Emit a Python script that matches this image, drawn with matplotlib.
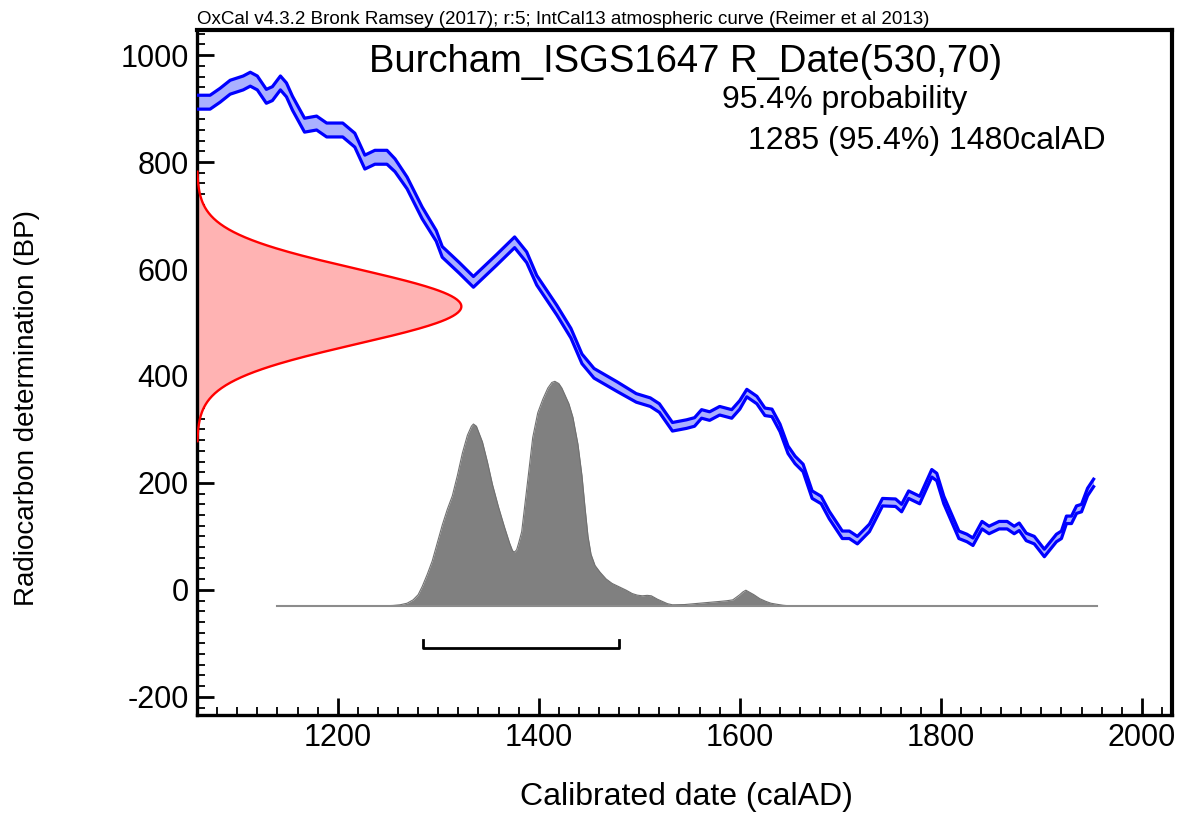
import numpy as np
import matplotlib
matplotlib.use("Agg")
import matplotlib.pyplot as plt

# IntCal13 curve (calAD, BP)
cal_year = [1060, 1073, 1083, 1093, 1106, 1113, 1120, 1129, 1135, 1143, 1149, 1155,
            1167, 1179, 1189, 1197, 1205, 1217, 1227, 1237, 1249, 1257, 1269, 1284,
            1298, 1304, 1321, 1335, 1358, 1376, 1388, 1398, 1418, 1432, 1443, 1455,
            1478, 1497, 1511, 1520, 1533, 1547, 1555, 1562, 1570, 1580, 1592, 1600,
            1607, 1617, 1625, 1632, 1640, 1648, 1655, 1663, 1672, 1681, 1689, 1702,
            1709, 1717, 1729, 1742, 1755, 1761, 1768, 1779, 1791, 1796, 1803, 1818,
            1826, 1832, 1841, 1848, 1858, 1866, 1873, 1878, 1885, 1893, 1903, 1915,
            1920, 1925, 1930, 1935, 1940, 1946, 1952]
cal_bp = [912, 912, 925, 940, 948, 955, 948, 923, 928, 948, 935, 910,
          869, 873, 860, 860, 860, 841, 800, 809, 809, 794, 761, 705,
          662, 632, 602, 576, 617, 650, 622, 579, 523, 480, 432, 405,
          380, 359, 351, 340, 305, 310, 314, 329, 325, 335, 329, 346,
          368, 355, 333, 331, 303, 262, 243, 228, 178, 168, 140, 103,
          103, 93, 116, 164, 163, 153, 178, 168, 218, 211, 168, 103,
          97, 90, 121, 112, 121, 121, 112, 118, 99, 93, 69, 97,
          103, 131, 131, 150, 153, 183, 200]
cal_err = [13, 13, 13, 13, 13, 13, 13, 13, 13, 13, 13, 13,
           13, 13, 13, 13, 13, 13, 13, 13, 13, 12, 11, 11,
           10, 10, 10, 10, 10, 10, 10, 9, 9, 9, 9, 9,
           9, 8, 8, 8, 8, 8, 8, 8, 8, 8, 8, 8,
           7, 7, 7, 7, 7, 7, 7, 7, 7, 7, 7, 7,
           7, 7, 7, 7, 7, 7, 7, 7, 7, 7, 7, 7,
           7, 7, 7, 7, 7, 7, 7, 7, 7, 7, 7, 7,
           7, 7, 7, 7, 7, 7, 7]

# radiocarbon date R_Date(530,70)
c14_mean = 530
c14_sd = 70

# calibrated probability (relative)
post_year = [1140, 1242, 1255, 1262, 1269, 1275, 1280, 1284, 1289, 1294, 1299, 1304,
             1309, 1314, 1319, 1324, 1329, 1333, 1335, 1338, 1344, 1349, 1354, 1360,
             1366, 1371, 1374, 1376, 1378, 1380, 1383, 1388, 1394, 1399, 1404, 1409,
             1413, 1416, 1420, 1423, 1426, 1430, 1434, 1439, 1443, 1446, 1449, 1452,
             1456, 1461, 1467, 1473, 1480, 1487, 1493, 1498, 1503, 1508, 1512, 1518,
             1523, 1528, 1533, 1545, 1560, 1570, 1580, 1587, 1593, 1597, 1600, 1603,
             1606, 1610, 1614, 1620, 1626, 1631, 1636, 1643, 1650, 1955]
post_prob = [0, 0, 0.002, 0.005, 0.012, 0.027, 0.05, 0.086, 0.14, 0.2, 0.28, 0.36,
             0.43, 0.49, 0.58, 0.68, 0.76, 0.8, 0.81, 0.8, 0.73, 0.64, 0.54, 0.44,
             0.35, 0.28, 0.245, 0.24, 0.25, 0.28, 0.33, 0.52, 0.75, 0.86, 0.92, 0.97,
             0.995, 1.0, 0.99, 0.97, 0.94, 0.9, 0.84, 0.72, 0.58, 0.44, 0.31, 0.23,
             0.18, 0.15, 0.12, 0.1, 0.085, 0.07, 0.055, 0.048, 0.045, 0.047, 0.045, 0.03,
             0.02, 0.01, 0.005, 0.006, 0.012, 0.016, 0.02, 0.023, 0.027, 0.04, 0.05, 0.062,
             0.07, 0.06, 0.05, 0.032, 0.02, 0.012, 0.008, 0.003, 0, 0]

# 95.4% range
range_from = 1285
range_to = 1480

header = "OxCal v4.3.2 Bronk Ramsey (2017); r:5; IntCal13 atmospheric curve (Reimer et al 2013)"
title = "Burcham_ISGS1647 R_Date(530,70)"
prob_label = "95.4% probability"
range_label = "1285 (95.4%) 1480calAD"

plt.rcParams["font.family"] = ["Liberation Sans", "DejaVu Sans"]
plt.rcParams["axes.unicode_minus"] = False

fig = plt.figure(figsize=(11.84, 8.18), dpi=100)
ax = fig.add_axes([197 / 1184, 1 - 715 / 818, 975 / 1184, 685 / 818])
ax.set_xlim(1060, 2030)
ax.set_ylim(-234, 1047)

# calibration curve band
yr = np.array(cal_year)
bp = np.array(cal_bp)
err = np.array(cal_err)
ax.fill_between(yr, bp - err, bp + err, color="#aab0ff", lw=0, zorder=2)
ax.plot(yr, bp + err, color="#0000ff", lw=2.3, zorder=3, solid_joinstyle="round")
ax.plot(yr, bp - err, color="#0000ff", lw=2.3, zorder=3, solid_joinstyle="round")

# radiocarbon measurement on the y axis
peak_w = 263
ys = np.linspace(c14_mean - 3.6 * c14_sd, c14_mean + 3.6 * c14_sd, 300)
dens = np.exp(-0.5 * ((ys - c14_mean) / c14_sd) ** 2)
ax.fill_betweenx(ys, 1060, 1060 + peak_w * dens, color="#ffb3b3", lw=0, zorder=2)
ax.plot(1060 + peak_w * dens, ys, color="#ff0000", lw=1.7, zorder=3)

# calibrated distribution
base = -30
height = 420
py = np.array(post_prob)
ax.fill_between(post_year, base, base + height * py, color="#808080", lw=0, zorder=2)
ax.plot(post_year, base + height * py, color="#707070", lw=0.8, zorder=3)
ax.plot([post_year[0], post_year[-1]], [base, base], color="#8c8c8c", lw=1.5, zorder=3)

# range bracket
ax.plot([range_from, range_from, range_to, range_to], [-93, -108, -108, -93],
        color="black", lw=2, zorder=3)

# ticks
ax.set_xticks([1200, 1400, 1600, 1800, 2000])
ax.set_xticks(np.arange(1080, 2030, 20), minor=True)
ax.set_yticks([-200, 0, 200, 400, 600, 800, 1000])
ax.set_yticks(np.arange(-220, 1047, 20), minor=True)
ax.tick_params(which="major", direction="in", length=12, width=2, labelsize=22,
               pad=6, top=False, right=False)
ax.tick_params(which="minor", direction="in", length=6, width=1.3,
               top=False, right=False)
for s in ["left", "bottom"]:
    ax.spines[s].set_linewidth(2.4)
for s in ["top", "right"]:
    ax.spines[s].set_linewidth(3)

ax.text(0.5015, 0.953, title, transform=ax.transAxes, ha="center", va="center",
        fontsize=27.5)
ax.text(0.538, 0.898, prob_label, transform=ax.transAxes, ha="left", va="center",
        fontsize=23)
ax.text(0.565, 0.838, range_label, transform=ax.transAxes, ha="left", va="center",
        fontsize=23)

fig.text(197 / 1184, 1 - 19 / 818, header, ha="left", va="center", fontsize=13.5)
fig.text(27 / 1184, 1 - 408 / 818, "Radiocarbon determination (BP)", rotation=90,
         ha="center", va="center", fontsize=20)
fig.text(686 / 1184, 1 - 797 / 818, "Calibrated date (calAD)", ha="center",
         va="center", fontsize=23)

fig.savefig("out.png", dpi=100)
